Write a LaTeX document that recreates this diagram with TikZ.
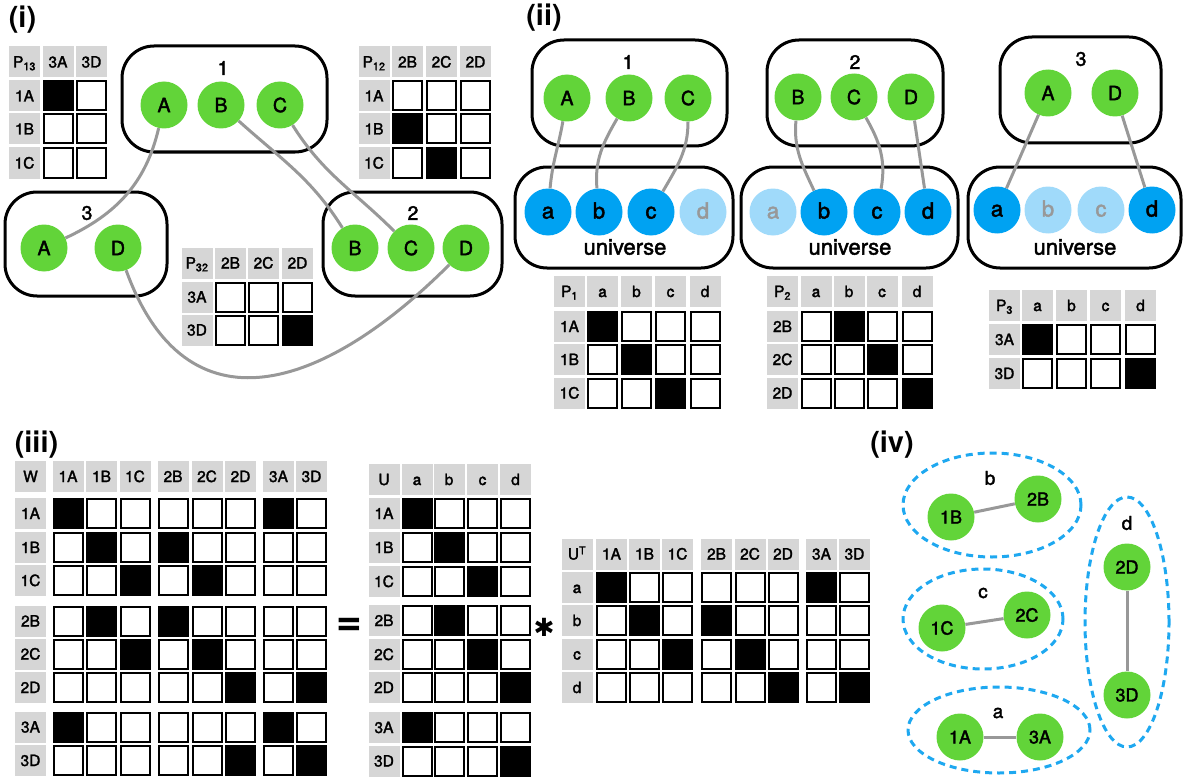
\documentclass[tikz,border=0pt]{standalone}
\usepackage{fontspec}
\setmainfont{TeX Gyre Heros}
\newfontfamily\medfont{TeX Gyre Heros}[FakeBold=2]
\newfontfamily\symfont{DejaVu Sans}
\definecolor{elemgreen}{RGB}{98,212,57}
\definecolor{uniblue}{RGB}{0,162,242}
\definecolor{unifaint}{RGB}{160,218,250}
\definecolor{hdrgray}{RGB}{214,214,214}
\definecolor{linkgray}{RGB}{152,152,152}
\definecolor{setblue}{RGB}{30,168,240}
\newcommand{\fsz}[1]{\fontsize{#1}{#1}\selectfont\medfont}
% grid: name, corner text, corner x, header y, columns x/label, rows y/label, black cells r/c
\newcommand{\drawgrid}[7]{%
  \node[hcell] (#1-0-0) at (#3,#4) {#2};
  \foreach \cx/\cl [count=\c] in {#5}
    \node[hcell] (#1-0-\c) at (\cx,#4) {\cl};
  \foreach \ry/\rl [count=\r] in {#6}{
    \node[hcell] (#1-\r-0) at (#3,\ry) {\rl};
    \foreach \cx/\cl [count=\c] in {#5}
      \node[wcell] (#1-\r-\c) at (\cx,\ry) {};
  }
  \foreach \r/\c in {#7}
    \fill (#1-\r-\c.south west) rectangle (#1-\r-\c.north east);
}

\begin{document}
\begin{tikzpicture}[x=1pt, y=-1pt,
  hcell/.style={fill=hdrgray, minimum size=31pt, inner sep=0pt, text height=11pt, text depth=0pt, font=\fsz{15.5}},
  wcell/.style={draw, fill=white, line width=2pt, minimum size=29pt, inner sep=0pt},
  grp/.style={draw, line width=3pt, rounded corners=32pt, inner sep=0pt},
  elem/.style={circle, fill=elemgreen, minimum size=47pt, inner sep=0pt, font=\fsz{19.5}},
  uni/.style={circle, fill=uniblue, minimum size=47pt, inner sep=0pt, text height=13pt, text depth=0pt, font=\fsz{22}},
  unioff/.style={uni, fill=unifaint, text=linkgray},
  link/.style={draw=linkgray, line width=3pt},
  setline/.style={draw=setblue, line width=3pt, dash pattern=on 7pt off 5pt},
  panel/.style={font=\fontsize{29}{29}\selectfont\bfseries},
  lab/.style={font=\fsz{19.5}}]
\useasboundingbox (0,0) rectangle (1183,781);

% (i)
\node[panel] (t1) at (22.5,20) {(i)};
\node[grp, minimum width=205pt, minimum height=106pt] (b1) at (224.5,99) {};
\node[grp, minimum width=162pt, minimum height=104pt] (b3) at (86,244) {};
\node[grp, minimum width=179pt, minimum height=104pt] (b2) at (412.5,244) {};
\node[lab] (b1l) at (223,68) {1};
\node[lab] (b3l) at (87,213) {3};
\node[lab] (b2l) at (413,213) {2};
\node[elem] (g1A) at (164,105) {A};
\node[elem] (g1B) at (221,105) {B};
\node[elem] (g1C) at (280,105) {C};
\node[elem] (g3A) at (44,248) {A};
\node[elem] (g3D) at (118,248) {D};
\node[elem] (g2B) at (355,248) {B};
\node[elem] (g2C) at (411,248) {C};
\node[elem] (g2D) at (466,248) {D};
\draw[link] (g1A) to[out=-103,in=25] (g3A);
\draw[link] (g1B) to[out=-42,in=122] (g2B);
\draw[link] (g1C) to[out=-58,in=135] (g2C);
\draw[link] (g3D) to[out=-70,in=-135,looseness=1.4] (g2D);
\drawgrid{P13}{P\textsubscript{13}}{24.5}{62}{58/3A,91.5/3D}{96/1A,129/1B,163/1C}{1/1}
\drawgrid{P12}{P\textsubscript{12}}{374}{62}{407.5/2B,441.5/2C,475.5/2D}{96/1A,129/1B,163/1C}{2/1,3/2}
\drawgrid{P32}{P\textsubscript{32}}{197}{263}{230.5/2B,263.5/2C,297.5/2D}{297/3A,330/3D}{2/3}

% (ii)
\node[panel] (t2) at (544,18) {(ii)};
\node[grp, minimum width=195pt, minimum height=106pt] (s1) at (629.5,93) {};
\node[grp, minimum width=176pt, minimum height=106pt] (s2) at (855,93) {};
\node[grp, minimum width=161pt, minimum height=106pt] (s3) at (1080.5,90) {};
\node[grp, minimum width=218pt, minimum height=101pt] (v1) at (624,217.5) {};
\node[grp, minimum width=217pt, minimum height=101pt] (v2) at (849.5,217.5) {};
\node[grp, minimum width=213pt, minimum height=101pt] (v3) at (1074.5,217.5) {};
\node[lab] (s1l) at (628,62) {1};
\node[lab] (s2l) at (855,62) {2};
\node[lab] (s3l) at (1081,59) {3};
\node[font=\fsz{22}] (v1l) at (625,247) {universe};
\node[font=\fsz{22}] (v2l) at (850,247) {universe};
\node[font=\fsz{22}] (v3l) at (1075,247) {universe};
\node[elem] (s1A) at (567,98) {A};
\node[elem] (s1B) at (629,98) {B};
\node[elem] (s1C) at (688,98) {C};
\node[elem] (s2B) at (798,97) {B};
\node[elem] (s2C) at (854,97) {C};
\node[elem] (s2D) at (911,97) {D};
\node[elem] (s3A) at (1048,93) {A};
\node[elem] (s3D) at (1115,93) {D};
\node[uni] (u1a) at (548,212) {a};
\node[uni] (u1b) at (599,212) {b};
\node[uni] (u1c) at (651,212) {c};
\node[unioff] (u1d) at (703,212) {d};
\node[unioff] (u2a) at (773,212) {a};
\node[uni] (u2b) at (824,212) {b};
\node[uni] (u2c) at (877,212) {c};
\node[uni] (u2d) at (928,212) {d};
\node[uni] (u3a) at (997,210) {a};
\node[unioff] (u3b) at (1048,210) {b};
\node[unioff] (u3c) at (1101,210) {c};
\node[uni] (u3d) at (1152,210) {d};
\draw[link] (s1A) to[out=-100,in=85] (u1a);
\draw[link] (s1B) to[out=-120,in=95] (u1b);
\draw[link] (s1C) to[out=-90,in=60] (u1c);
\draw[link] (s2B) to[out=-95,in=115] (u2b);
\draw[link] (s2C) to[out=-60,in=80] (u2c);
\draw[link] (s2D) -- (u2d);
\draw[link] (s3A) -- (u3a);
\draw[link] (s3D) -- (u3d);
\drawgrid{P1}{P\textsubscript{1}}{569.5}{291.5}{602.5/a,636.5/b,670.5/c,705/d}{326.5/1A,359.5/1B,393/1C}{1/1,2/2,3/3}
\drawgrid{P2}{P\textsubscript{2}}{782.5}{291.5}{816/a,849/b,882/c,917/d}{326.5/2B,359.5/2C,393/2D}{1/2,2/3,3/4}
\drawgrid{P3}{P\textsubscript{3}}{1004.5}{305.5}{1037.5/a,1071.5/b,1105.5/c,1140.5/d}{339.5/3A,373.5/3D}{1/1,2/4}

% (iii)
\node[panel] (t3) at (36.5,445) {(iii)};
\drawgrid{W}{W}{30.5}{476.5}{68/1A,101.5/1B,135/1C,173/2B,207/2C,240.5/2D,278.5/3A,311.5/3D}
  {513.5/1A,547.5/1B,580.5/1C,621/2B,654/2C,687.5/2D,727/3A,760.5/3D}
  {1/1,1/7,2/2,2/4,3/3,3/5,4/2,4/4,5/3,5/5,6/6,6/8,7/1,7/7,8/6,8/8}
\node[font=\fontsize{44}{44}\selectfont\bfseries] (eq) at (349,627) {=};
\drawgrid{U}{U}{384}{479.5}{417/a,449/b,482.5/c,515.5/d}
  {513.5/1A,547.5/1B,581.5/1C,620.5/2B,654.5/2C,687.5/2D,727.5/3A,761/3D}
  {1/1,2/2,3/3,4/2,5/3,6/4,7/1,8/4}
\node[font=\fontsize{25}{25}\selectfont\symfont] (ast) at (544,627) {✱};
\drawgrid{UT}{U\textsuperscript{T}}{577}{554}{611.5/1A,644.5/1B,677.5/1C,716.5/2B,750/2C,783/2D,821.5/3A,854.5/3D}
  {587.5/a,620.5/b,654/c,687.5/d}
  {1/1,1/7,2/2,2/4,3/3,3/5,4/6,4/8}

% (iv)
\node[panel] (t4) at (892,445) {(iv)};
\draw[setline] (992,505) ellipse [x radius=89pt, y radius=52pt];
\draw[setline] (983,619) ellipse [x radius=80pt, y radius=50pt];
\draw[setline] (999,730) ellipse [x radius=91pt, y radius=43pt];
\draw[setline] (1127,622) ellipse [x radius=42pt, y radius=125pt];
\node[font=\fsz{19}] (eb) at (990,478) {b};
\node[font=\fsz{19}] (ec) at (983,593) {c};
\node[font=\fsz{19}] (ea) at (998,713) {a};
\node[font=\fsz{19}] (ed) at (1127,523) {d};
\node[elem, font=\fsz{18}] (n1B) at (951,517) {1B};
\node[elem, font=\fsz{18}] (n2B) at (1038,499) {2B};
\node[elem, font=\fsz{18}] (n1C) at (942,628) {1C};
\node[elem, font=\fsz{18}] (n2C) at (1027,615) {2C};
\node[elem, font=\fsz{18}] (n1A) at (960,737) {1A};
\node[elem, font=\fsz{18}] (n3A) at (1040,737) {3A};
\node[elem, font=\fsz{18}] (n2D) at (1127,567) {2D};
\node[elem, font=\fsz{18}] (n3D) at (1127,695) {3D};
\draw[link] (n1B) -- (n2B);
\draw[link] (n1C) -- (n2C);
\draw[link] (n1A) -- (n3A);
\draw[link] (n2D) -- (n3D);
\end{tikzpicture}
\end{document}
